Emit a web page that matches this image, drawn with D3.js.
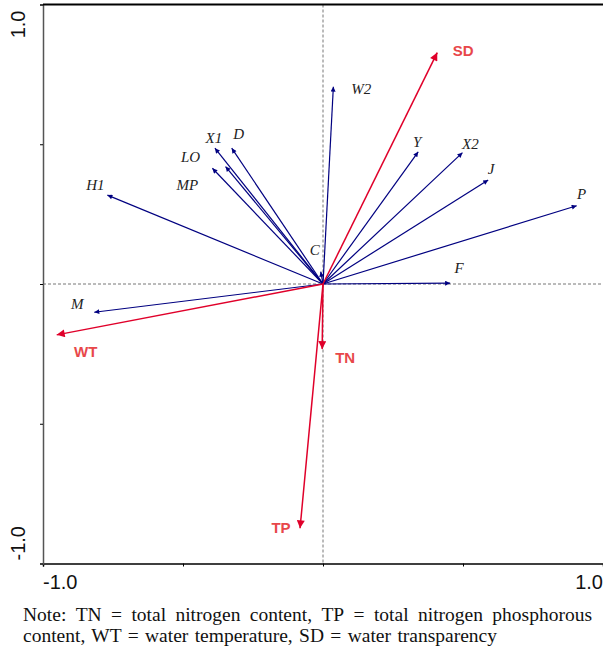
<!DOCTYPE html>
<html>
<head>
<meta charset="utf-8">
<script src="https://cdn.jsdelivr.net/npm/d3@7"></script>
<style>
  body { margin: 0; background: #fff; }
  svg { display: block; }
</style>
</head>
<body>
<script>
var width = 603;
var height = 653;

// species vectors (blue)
var spNames = ["H1", "X1", "D", "LO", "MP", "C", "M", "W2", "Y", "X2", "J", "P", "F"];
var spX = [-0.770, -0.386, -0.326, -0.348, -0.395, -0.008, -0.817, 0.037, 0.340, 0.498, 0.590, 0.906, 0.454];
var spY = [0.318, 0.486, 0.486, 0.420, 0.414, 0.044, -0.101, 0.706, 0.473, 0.470, 0.372, 0.280, 0.003];

// environmental vectors (red)
var envNames = ["SD", "TN", "TP", "WT"];
var envX = [0.408, -0.003, -0.082, -0.951];
var envY = [0.828, -0.233, -0.874, -0.182];

var tickValues = [-1, -0.5, 0, 0.5, 1];
var tickLabels = ["-1.0", "1.0"];

var noteLine1 = "Note: TN = total nitrogen content, TP = total nitrogen phosphorous";
var noteLine2 = "content, WT = water temperature, SD = water transparency";

// label offsets from arrow tips (px)
var labelOffset = {
  H1: [-12, -10], X1: [-1, -10], D: [7, -14], LO: [-35, -10], MP: [-25, 17],
  C: [-6, -22], M: [-17, -8], W2: [28, 2], Y: [-1, -10], X2: [8, -9],
  J: [3, -11], P: [5, -12], F: [9, -15],
  SD: [26, -2], TN: [23, 8], TP: [-19, -1], WT: [29, 17]
};

var plotLeft = 43, plotRight = 603, plotTop = 4.5, plotBottom = 563.5;

var x = d3.scaleLinear().domain([-1, 1]).range([plotLeft, plotRight]);
var y = d3.scaleLinear().domain([-1, 1]).range([plotBottom, plotTop]);

var svg = d3.select("body").append("svg").attr("width", width).attr("height", height);

var defs = svg.append("defs");
defs.append("marker").attr("id", "headBlue")
  .attr("viewBox", "0 0 10 10").attr("refX", 10).attr("refY", 5)
  .attr("markerUnits", "userSpaceOnUse").attr("markerWidth", 7).attr("markerHeight", 5)
  .attr("orient", "auto")
  .append("path").attr("d", "M0,0L10,5L0,10z").attr("fill", "#000080");
defs.append("marker").attr("id", "headRed")
  .attr("viewBox", "0 0 10 10").attr("refX", 10).attr("refY", 5)
  .attr("markerUnits", "userSpaceOnUse").attr("markerWidth", 13).attr("markerHeight", 8)
  .attr("orient", "auto")
  .append("path").attr("d", "M0,0L10,5L0,10z").attr("fill", "#e0002a");

// zero lines
svg.append("line").attr("x1", x(0)).attr("x2", x(0)).attr("y1", plotTop).attr("y2", plotBottom)
  .attr("stroke", "#777").attr("stroke-dasharray", "3,2").attr("stroke-width", 1);
svg.append("line").attr("x1", plotLeft).attr("x2", plotRight).attr("y1", y(0)).attr("y2", y(0))
  .attr("stroke", "#777").attr("stroke-dasharray", "3,2").attr("stroke-width", 1);

// axes
var xAxis = d3.axisBottom(x).tickValues(tickValues).tickSize(3).tickFormat("");
var yAxis = d3.axisLeft(y).tickValues(tickValues).tickSize(3).tickFormat("");

var gx = svg.append("g").attr("transform", "translate(0," + plotBottom + ")").call(xAxis);
gx.select(".domain").attr("stroke", "#000").attr("stroke-width", 1.5);
var gy = svg.append("g").attr("transform", "translate(" + plotLeft + ",0)").call(yAxis);
gy.select(".domain").attr("stroke", "#555").attr("stroke-width", 1.5);

// top border
svg.append("line").attr("x1", plotLeft).attr("x2", plotRight).attr("y1", plotTop).attr("y2", plotTop)
  .attr("stroke", "#000").attr("stroke-width", 2);

// tick labels at the ends
var axisFont = "Liberation Sans, Arial, sans-serif";
svg.append("text").attr("x", x(-1)).attr("y", 589).attr("text-anchor", "start")
  .attr("font-family", axisFont).attr("font-size", 20).attr("fill", "#111")
  .text(tickLabels[0]);
svg.append("text").attr("x", x(1)).attr("y", 589).attr("text-anchor", "end")
  .attr("font-family", axisFont).attr("font-size", 20).attr("fill", "#111")
  .text(tickLabels[1]);
svg.append("text").attr("transform", "translate(25," + (y(1) + 6) + ") rotate(-90)").attr("text-anchor", "end")
  .attr("font-family", axisFont).attr("font-size", 20).attr("fill", "#111")
  .text(tickLabels[1]);
svg.append("text").attr("transform", "translate(25," + (y(-1) - 3) + ") rotate(-90)").attr("text-anchor", "start")
  .attr("font-family", axisFont).attr("font-size", 20).attr("fill", "#111")
  .text(tickLabels[0]);

// arrows
var sp = spNames.map(function(n, i) { return {name: n, x: spX[i], y: spY[i]}; });
var env = envNames.map(function(n, i) { return {name: n, x: envX[i], y: envY[i]}; });

svg.selectAll("line.sp").data(sp).enter().append("line").attr("class", "sp")
  .attr("x1", x(0)).attr("y1", y(0))
  .attr("x2", function(d) { return x(d.x); })
  .attr("y2", function(d) { return y(d.y); })
  .attr("stroke", "#000080").attr("stroke-width", 1.2)
  .attr("marker-end", "url(#headBlue)");

svg.selectAll("line.env").data(env).enter().append("line").attr("class", "env")
  .attr("x1", x(0)).attr("y1", y(0))
  .attr("x2", function(d) { return x(d.x); })
  .attr("y2", function(d) { return y(d.y); })
  .attr("stroke", "#e0002a").attr("stroke-width", 1.5)
  .attr("marker-end", "url(#headRed)");

svg.selectAll("text.sp").data(sp).enter().append("text").attr("class", "sp")
  .attr("x", function(d) { return x(d.x) + labelOffset[d.name][0]; })
  .attr("y", function(d) { return y(d.y) + labelOffset[d.name][1]; })
  .attr("text-anchor", "middle").attr("dominant-baseline", "central")
  .attr("font-family", "Liberation Serif, Times New Roman, serif").attr("font-style", "italic")
  .attr("font-size", 15).attr("fill", "#222")
  .text(function(d) { return d.name; });

svg.selectAll("text.env").data(env).enter().append("text").attr("class", "env")
  .attr("x", function(d) { return x(d.x) + labelOffset[d.name][0]; })
  .attr("y", function(d) { return y(d.y) + labelOffset[d.name][1]; })
  .attr("text-anchor", "middle").attr("dominant-baseline", "central")
  .attr("font-family", axisFont).attr("font-weight", "bold")
  .attr("font-size", 15).attr("fill", "#e8474a")
  .text(function(d) { return d.name; });

// note, first line justified
var noteFont = "Liberation Serif, Times New Roman, serif";
var words = noteLine1.split(" ");
var g1 = svg.append("g");
var wt = g1.selectAll("text").data(words).enter().append("text")
  .attr("y", 621).attr("font-family", noteFont).attr("font-size", 19.5).attr("fill", "#111")
  .text(function(d) { return d; });
var widths = [];
wt.each(function() { widths.push(this.getComputedTextLength()); });
var x0 = 23, x1 = 592;
var gap = (x1 - x0 - d3.sum(widths)) / (words.length - 1);
var cx = x0;
wt.attr("x", function(d, i) { var v = cx; cx += widths[i] + gap; return v; });

svg.append("text").attr("x", 23).attr("y", 642)
  .attr("font-family", noteFont).attr("font-size", 19.5).attr("fill", "#111")
  .attr("word-spacing", 1.5)
  .text(noteLine2);
</script>
</body>
</html>
